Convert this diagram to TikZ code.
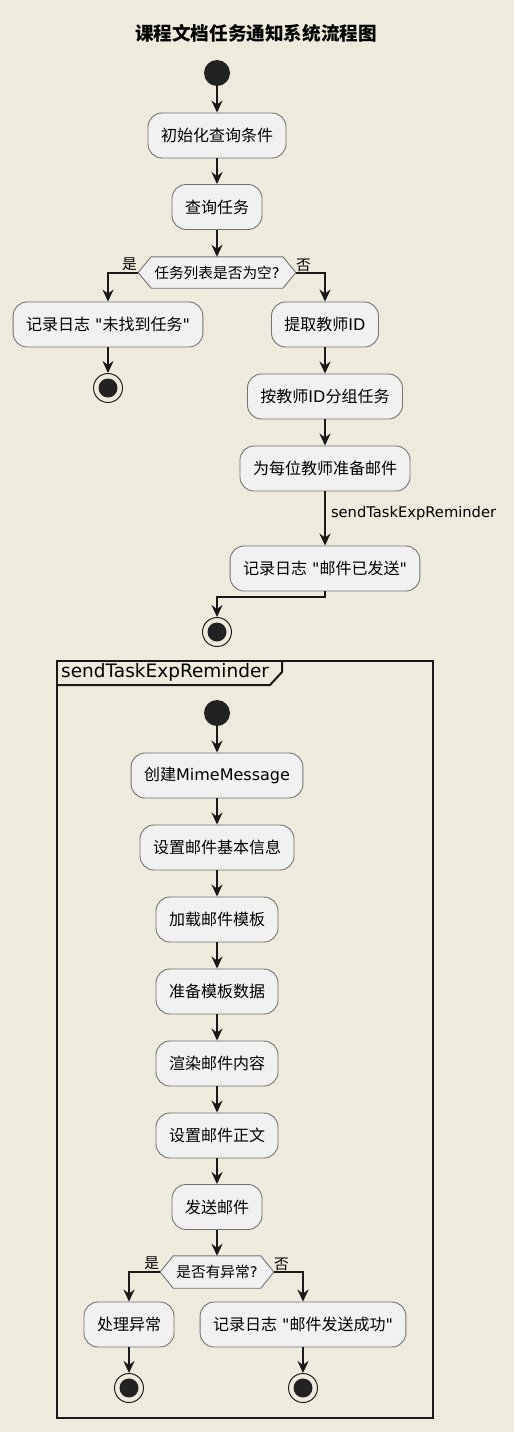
\documentclass[tikz,border=0pt]{standalone}
\usepackage{fontspec}
\setmainfont{DejaVu Sans}[Ligatures=TeXOff]
\newfontfamily\cjk{Noto Sans CJK SC}[Ligatures=TeXOff]
\newcommand\zh[1]{{\cjk #1}}
\usetikzlibrary{arrows.meta,calc,backgrounds}
\definecolor{bgc}{HTML}{EEEBDC}
\definecolor{boxfill}{HTML}{F1F1F1}
\definecolor{boxline}{HTML}{737373}
\definecolor{ink}{HTML}{181818}
\definecolor{dotc}{HTML}{222222}
\tikzset{
  act/.style={draw=boxline, line width=0.9pt, fill=boxfill, rounded corners=14pt,
    minimum height=45pt, inner xsep=13pt, inner ysep=0pt, text=black,
    font=\fontsize{16}{19}\selectfont},
  hexa/.style={draw=none, minimum height=31pt, inner xsep=3pt, inner ysep=0pt,
    text=black, font=\fontsize{14.7}{17}\selectfont},
  hexline/.style={draw=boxline, line width=0.9pt, fill=boxfill},
  startnode/.style={circle, fill=dotc, draw=none, minimum size=26pt, inner sep=0pt},
  stopnode/.style={circle, draw=dotc, line width=1pt, minimum size=29pt, inner sep=0pt,
    path picture={\fill[dotc] (path picture bounding box.center) circle (9.5pt);}},
  arr/.style={draw=ink, line width=2pt, -{Stealth[length=12pt,width=11pt,inset=4pt]}},
  lbl/.style={inner sep=0pt, text=black, font=\fontsize{14.7}{17}\selectfont},
  frameline/.style={draw=ink, line width=2pt},
  titlefont/.style={font=\fontsize{18.6}{22}\selectfont\cjk\bfseries}
}
\begin{document}
\begin{tikzpicture}[x=1pt,y=-1pt]
\begin{scope}[on background layer]
\fill[bgc] (0,0) rectangle (514,1432);
\end{scope}
\useasboundingbox (0,0) rectangle (514,1432);

\node[titlefont] (title) at (256,33) {课程文档任务通知系统流程图};

% main flow
\node[startnode] (s0) at (217,73) {};
\node[act] (b1) at (217,135.5) {\zh{初始化查询条件}};
\node[act] (b2) at (217,207) {\zh{查询任务}};
\node[hexa, minimum width=131pt] (d1) at (217,272.5) {\zh{任务列表是否为空}?};
\coordinate (d1L) at ($(d1.west)+(-13,0)$);
\coordinate (d1R) at ($(d1.east)+(13,0)$);
\begin{scope}[on background layer]
\path[hexline] (d1.north west) -- (d1.north east) -- (d1R) -- (d1.south east) -- (d1.south west) -- (d1L) -- cycle;
\end{scope}
\node[lbl, anchor=south east] (y1) at ($(d1L)+(-1,-2)$) {\zh{是}};
\node[lbl, anchor=south west] (n1) at ($(d1R)+(0,-1)$) {\zh{否}};

\node[act] (b3) at (108,324.5) {\zh{记录日志} "\zh{未找到任务}"};
\node[stopnode] (e0) at (108,388) {};
\node[act] (b4) at (325,324.5) {\zh{提取教师}ID};
\node[act] (b5) at (325,396.5) {\zh{按教师}ID\zh{分组任务}};
\node[act] (b6) at (325,468.5) {\zh{为每位教师准备邮件}};
\node[act] (b7) at (325,568.5) {\zh{记录日志} "\zh{邮件已发送}"};
\node[stopnode] (e1) at (217,632) {};

\draw[arr] (s0) -- (b1);
\draw[arr] (b1) -- (b2);
\draw[arr] (b2) -- (d1);
\draw[arr] (d1L) -| (b3.north);
\draw[arr] (d1R) -| (b4.north);
\draw[arr] (b3) -- (e0);
\draw[arr] (b4) -- (b5);
\draw[arr] (b5) -- (b6);
\draw[arr] (b6) -- node[lbl, pos=0.4, anchor=west, xshift=5pt] (sl) {sendTaskExpReminder} (b7);
\draw[arr] (b7.south) -- ++(0,6) -| (e1.north);

% frame
\node[frameline, minimum width=376pt, minimum height=757pt, inner sep=0pt] (frm) at (245,1039.5) {};
\coordinate (fa) at ($(frm.north west)+(0,25)$);
\coordinate (fb) at ($(frm.north west)+(214,25)$);
\coordinate (fc) at ($(frm.north west)+(226,12)$);
\coordinate (fd) at ($(frm.north west)+(226,0)$);
\draw[frameline] (fa) -- (fb) -- (fc) -- (fd);
\node[anchor=west, inner sep=0pt, font=\fontsize{18.5}{22}\selectfont] (ft) at ($(frm.north west)+(5,12.5)$) {sendTaskExpReminder};

% sub flow
\node[startnode] (s1) at (217,713) {};
\node[act] (c1) at (217,775.5) {\zh{创建}MimeMessage};
\node[act] (c2) at (217,847.5) {\zh{设置邮件基本信息}};
\node[act] (c3) at (217,919.5) {\zh{加载邮件模板}};
\node[act] (c4) at (217,991.5) {\zh{准备模板数据}};
\node[act] (c5) at (217,1063.5) {\zh{渲染邮件内容}};
\node[act] (c6) at (217,1135.5) {\zh{设置邮件正文}};
\node[act] (c7) at (217,1207) {\zh{发送邮件}};
\node[hexa, minimum width=86pt, minimum height=32pt] (d2) at (217,1272) {\zh{是否有异常}?};
\coordinate (d2L) at ($(d2.west)+(-13,0)$);
\coordinate (d2R) at ($(d2.east)+(13,0)$);
\begin{scope}[on background layer]
\path[hexline] (d2.north west) -- (d2.north east) -- (d2R) -- (d2.south east) -- (d2.south west) -- (d2L) -- cycle;
\end{scope}
\node[lbl, anchor=south east] (y2) at ($(d2L)+(-1,-2)$) {\zh{是}};
\node[lbl, anchor=south west] (n2) at ($(d2R)+(0,-1)$) {\zh{否}};
\node[act] (c8) at (129,1324.5) {\zh{处理异常}};
\node[act] (c9) at (303,1324.5) {\zh{记录日志} "\zh{邮件发送成功}"};
\node[stopnode] (e2) at (129,1388) {};
\node[stopnode] (e3) at (303,1388) {};

\draw[arr] (s1) -- (c1);
\draw[arr] (c1) -- (c2);
\draw[arr] (c2) -- (c3);
\draw[arr] (c3) -- (c4);
\draw[arr] (c4) -- (c5);
\draw[arr] (c5) -- (c6);
\draw[arr] (c6) -- (c7);
\draw[arr] (c7) -- (d2);
\draw[arr] (d2L) -| (c8.north);
\draw[arr] (d2R) -| (c9.north);
\draw[arr] (c8) -- (e2);
\draw[arr] (c9) -- (e3);
\end{tikzpicture}
\end{document}
